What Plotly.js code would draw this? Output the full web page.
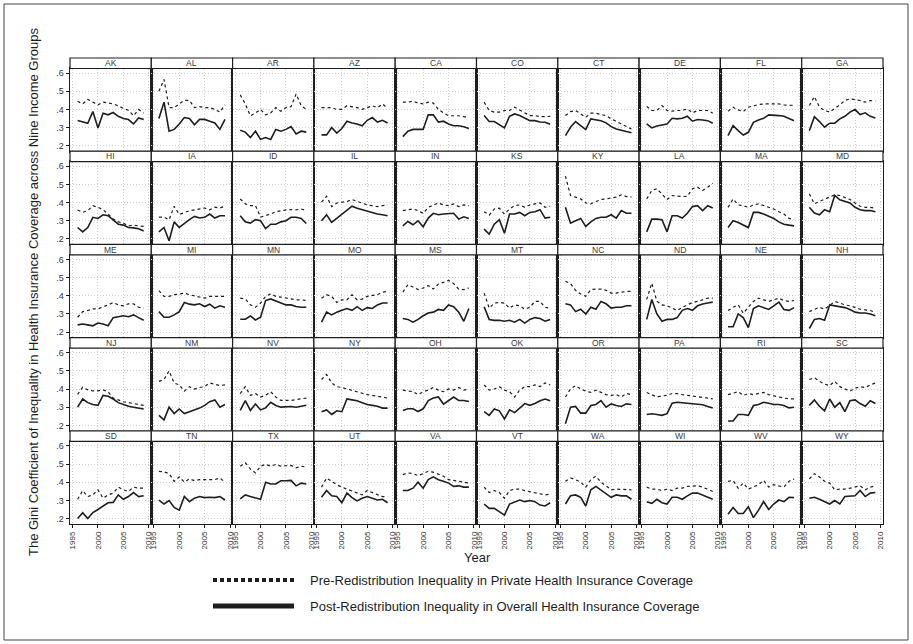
<!DOCTYPE html>
<html>
<head>
<meta charset="utf-8">
<script src="https://cdn.plot.ly/plotly-3.0.1.min.js"></script>
<style>html,body{margin:0;padding:0;background:#fff;}#chart{width:913px;height:644px;}</style>
</head>
<body>
<div id="chart"></div>
<script>
// ---------- DATA ----------
const states = ["AK","AL","AR","AZ","CA","CO","CT","DE","FL","GA",
                "HI","IA","ID","IL","IN","KS","KY","LA","MA","MD",
                "ME","MI","MN","MO","MS","MT","NC","ND","NE","NH",
                "NJ","NM","NV","NY","OH","OK","OR","PA","RI","SC",
                "SD","TN","TX","UT","VA","VT","WA","WI","WV","WY"];
const years = [1996,1997,1998,1999,2000,2001,2002,2003,2004,2005,2006,2007,2008,2009];
const yTickVals = [0.2,0.3,0.4,0.5,0.6];
const yTickText = [".2",".3",".4",".5",".6"];
const xTickVals = [1995,2000,2005,2010];
const xTickText = ["1995","2000","2005","2010"];
const preLabel = "Pre-Redistribution Inequality in Private Health Insurance Coverage";
const postLabel = "Post-Redistribution Inequality in Overall Health Insurance Coverage";

// Pre-redistribution (private coverage) Gini, one row per state in the order above
const preRedist = [
 [.445,.43,.455,.44,.425,.44,.435,.43,.42,.405,.395,.365,.40,.38],   // AK
 [.50,.565,.41,.41,.43,.45,.45,.41,.415,.41,.41,.40,.385,.425],       // AL
 [.48,.43,.365,.38,.40,.37,.38,.41,.39,.41,.415,.485,.42,.40],        // AR
 [.41,.41,.41,.40,.40,.42,.415,.41,.40,.41,.42,.41,.43,.405],         // AZ
 [.44,.44,.445,.435,.43,.44,.435,.40,.38,.365,.365,.365,.36,.355],    // CA
 [.44,.394,.385,.385,.394,.394,.412,.397,.379,.366,.366,.36,.36,.362],// CO
 [.366,.388,.394,.375,.357,.379,.379,.372,.366,.348,.333,.32,.305,.292],// CT
 [.416,.394,.394,.421,.394,.39,.394,.394,.403,.381,.394,.394,.394,.379],// DE
 [.39,.412,.397,.388,.412,.421,.427,.43,.43,.43,.43,.425,.421,.421],  // FL
 [.421,.471,.412,.394,.385,.403,.425,.449,.458,.453,.449,.44,.449,.445],// GA
 [.359,.346,.356,.383,.374,.361,.337,.309,.294,.287,.272,.276,.272,.269],// HI
 [.32,.32,.305,.38,.335,.345,.355,.36,.365,.37,.36,.375,.37,.38],     // IA
 [.42,.393,.383,.383,.32,.328,.337,.35,.356,.36,.361,.36,.365,.356],  // ID
 [.402,.435,.378,.398,.402,.406,.417,.406,.398,.387,.383,.378,.383,.387],// IL
 [.356,.361,.365,.356,.341,.374,.387,.398,.387,.383,.393,.378,.387,.383],// IN
 [.35,.331,.365,.369,.337,.365,.383,.387,.374,.387,.393,.398,.374,.38],// KS
 [.546,.439,.43,.42,.398,.393,.406,.417,.42,.424,.43,.443,.433,.43],  // KY
 [.42,.467,.476,.448,.417,.439,.435,.433,.435,.476,.485,.467,.485,.507],// LA
 [.374,.42,.387,.383,.374,.387,.393,.383,.374,.365,.35,.337,.313,.306],// MA
 [.448,.393,.406,.417,.43,.443,.439,.43,.417,.398,.38,.374,.374,.369],// MD
 [.282,.313,.319,.328,.328,.337,.35,.363,.35,.345,.356,.356,.337,.332],// ME
 [.428,.397,.397,.406,.41,.415,.406,.40,.397,.387,.397,.397,.397,.397],// MI
 [.387,.382,.35,.337,.36,.397,.411,.397,.393,.387,.383,.378,.378,.374],// MN
 [.387,.406,.397,.363,.378,.378,.406,.378,.382,.397,.402,.406,.42,.424],// MO
 [.42,.461,.448,.434,.443,.456,.437,.465,.474,.485,.467,.437,.434,.443],// MS
 [.415,.332,.36,.363,.36,.332,.35,.345,.326,.337,.369,.369,.337,.332],// MT
 [.48,.467,.43,.41,.397,.434,.437,.437,.43,.415,.415,.42,.424,.424],  // NC
 [.38,.47,.37,.35,.345,.332,.319,.337,.35,.363,.369,.378,.387,.387],  // ND
 [.319,.337,.35,.304,.337,.369,.387,.378,.369,.378,.387,.374,.369,.374],// NE
 [.313,.323,.337,.326,.35,.369,.36,.35,.345,.337,.326,.323,.319,.308],// NH
 [.37,.41,.395,.39,.39,.395,.385,.35,.34,.33,.325,.32,.315,.31],      // NJ
 [.442,.452,.50,.433,.423,.388,.413,.40,.408,.413,.433,.427,.419,.423],// NM
 [.375,.413,.365,.375,.356,.365,.385,.356,.337,.337,.337,.342,.346,.35],// NV
 [.452,.48,.433,.413,.408,.40,.394,.385,.375,.369,.365,.36,.356,.35], // NY
 [.394,.388,.385,.369,.385,.394,.408,.394,.385,.40,.394,.408,.394,.40],// OH
 [.423,.394,.40,.413,.394,.385,.356,.394,.413,.413,.423,.413,.433,.423],// OK
 [.356,.40,.419,.40,.388,.381,.394,.381,.369,.365,.369,.356,.375,.369],// OR
 [.381,.369,.356,.362,.365,.375,.375,.369,.365,.362,.356,.35,.346,.346],// PA
 [.369,.375,.385,.365,.375,.369,.375,.381,.369,.362,.356,.35,.346,.346],// RI
 [.452,.462,.442,.427,.419,.442,.413,.40,.388,.404,.413,.408,.423,.433],// SC
 [.306,.354,.321,.33,.358,.312,.33,.34,.373,.358,.349,.373,.367,.367],// SD
 [.46,.457,.447,.405,.429,.40,.418,.408,.414,.414,.418,.414,.423,.40],// TN
 [.488,.507,.473,.451,.488,.498,.488,.498,.488,.488,.492,.479,.488,.483],// TX
 [.373,.423,.405,.386,.373,.362,.354,.343,.33,.354,.343,.33,.321,.321],// UT
 [.442,.451,.447,.436,.447,.46,.455,.442,.433,.414,.41,.405,.40,.395],// VA
 [.373,.343,.354,.343,.312,.354,.362,.362,.354,.349,.343,.336,.33,.334],// VT
 [.405,.423,.414,.40,.373,.414,.433,.40,.38,.358,.362,.362,.358,.358],// WA
 [.373,.362,.362,.354,.362,.354,.367,.367,.377,.38,.38,.373,.362,.349],// WI
 [.405,.41,.367,.395,.362,.373,.386,.41,.373,.386,.38,.373,.405,.418],// WV
 [.418,.447,.429,.405,.395,.358,.362,.362,.367,.373,.38,.358,.373,.38] // WY
];

// Post-redistribution (overall coverage) Gini
const postRedist = [
 [.339,.333,.324,.388,.298,.379,.37,.383,.362,.35,.344,.32,.353,.344], // AK
 [.35,.44,.28,.29,.32,.355,.35,.315,.345,.345,.335,.325,.29,.345],     // AL
 [.285,.275,.245,.28,.235,.245,.235,.29,.28,.29,.305,.265,.28,.275],   // AR
 [.26,.26,.30,.27,.295,.335,.325,.32,.31,.34,.355,.33,.34,.325],       // AZ
 [.25,.28,.29,.29,.29,.37,.37,.33,.335,.32,.31,.31,.305,.295],         // CA
 [.366,.333,.333,.316,.298,.362,.375,.366,.351,.338,.338,.331,.329,.318],// CO
 [.256,.302,.333,.311,.289,.348,.344,.338,.326,.305,.292,.283,.278,.272],// CT
 [.32,.298,.309,.313,.32,.351,.348,.351,.362,.335,.344,.342,.338,.324],// DE
 [.256,.311,.283,.259,.274,.329,.342,.351,.37,.37,.366,.362,.348,.338],// FL
 [.283,.36,.333,.302,.324,.324,.348,.362,.385,.399,.372,.381,.362,.352],// GA
 [.263,.239,.263,.319,.313,.333,.328,.306,.281,.276,.263,.261,.256,.244],// HI
 [.239,.263,.19,.294,.263,.287,.306,.324,.315,.319,.337,.315,.328,.328],// IA
 [.328,.294,.287,.306,.30,.257,.281,.281,.294,.30,.319,.319,.313,.285],// ID
 [.30,.333,.291,.313,.337,.361,.38,.369,.361,.35,.346,.337,.333,.328], // IL
 [.272,.296,.278,.30,.267,.315,.341,.333,.337,.337,.341,.309,.322,.313],// IN
 [.254,.226,.281,.306,.231,.337,.337,.346,.328,.346,.35,.361,.315,.319],// KS
 [.374,.287,.30,.313,.269,.294,.313,.319,.319,.333,.315,.356,.341,.341],// KY
 [.239,.309,.309,.306,.239,.328,.328,.315,.341,.378,.383,.356,.383,.37],// LA
 [.263,.30,.291,.276,.263,.346,.346,.337,.324,.313,.294,.281,.276,.272],// MA
 [.374,.343,.333,.361,.35,.439,.415,.406,.398,.374,.361,.356,.356,.35],// MD
 [.24,.245,.24,.235,.25,.245,.235,.28,.285,.29,.285,.295,.28,.265],   // ME
 [.313,.282,.282,.295,.313,.363,.354,.35,.356,.341,.354,.332,.345,.337],// MI
 [.271,.271,.289,.267,.282,.374,.383,.372,.36,.35,.35,.341,.337,.337],// MN
 [.255,.31,.295,.31,.32,.33,.32,.34,.32,.335,.33,.35,.36,.36],         // MO
 [.275,.27,.255,.27,.29,.305,.31,.325,.32,.35,.34,.31,.26,.33],        // MS
 [.34,.27,.265,.265,.26,.265,.255,.27,.25,.27,.28,.275,.26,.27],       // MT
 [.356,.35,.313,.326,.30,.337,.326,.369,.356,.332,.337,.337,.345,.345],// NC
 [.27,.38,.30,.26,.27,.27,.28,.32,.33,.32,.345,.355,.36,.365],         // ND
 [.23,.23,.30,.28,.225,.33,.345,.335,.325,.345,.365,.325,.32,.335],    // NE
 [.22,.27,.275,.265,.35,.345,.34,.335,.325,.31,.305,.305,.30,.29],     // NH
 [.30,.345,.325,.315,.31,.365,.36,.345,.325,.315,.305,.30,.295,.29],   // NJ
 [.255,.23,.30,.265,.29,.265,.275,.285,.295,.31,.33,.34,.30,.315],     // NM
 [.282,.336,.282,.318,.285,.296,.327,.309,.30,.304,.304,.30,.304,.311],// NV
 [.275,.285,.26,.28,.275,.345,.34,.335,.325,.315,.31,.305,.295,.295],  // NY
 [.282,.291,.291,.276,.291,.336,.35,.356,.317,.337,.356,.337,.337,.331],// OH
 [.275,.255,.29,.28,.235,.285,.27,.295,.32,.31,.32,.335,.345,.335],    // OK
 [.209,.30,.304,.267,.267,.309,.315,.336,.30,.318,.309,.304,.318,.315],// OR
 [.26,.264,.26,.255,.264,.322,.327,.324,.322,.318,.315,.313,.304,.296],// PA
 [.224,.224,.26,.26,.255,.309,.315,.327,.322,.315,.315,.309,.296,.30], // RI
 [.31,.34,.305,.28,.345,.30,.325,.275,.335,.34,.32,.305,.335,.32],     // SC
 [.20,.232,.20,.233,.25,.269,.287,.289,.33,.306,.321,.343,.321,.325],  // SD
 [.302,.28,.299,.261,.246,.321,.293,.312,.321,.315,.317,.315,.321,.302],// TN
 [.308,.33,.321,.315,.306,.40,.39,.39,.408,.408,.41,.38,.395,.39],     // TX
 [.317,.354,.325,.321,.287,.34,.315,.297,.312,.321,.312,.302,.306,.287],// UT
 [.354,.354,.367,.40,.367,.414,.429,.414,.405,.395,.377,.38,.373,.373],// VA
 [.28,.256,.256,.237,.219,.28,.293,.302,.293,.299,.293,.274,.269,.287],// VT
 [.28,.325,.33,.317,.269,.358,.377,.358,.34,.317,.33,.325,.325,.306],  // WA
 [.293,.284,.306,.287,.28,.317,.317,.306,.325,.34,.34,.33,.317,.306],  // WI
 [.224,.261,.228,.228,.265,.205,.246,.293,.25,.28,.302,.293,.317,.315],// WV
 [.312,.317,.306,.293,.28,.299,.28,.321,.325,.325,.354,.321,.34,.343]  // WY
];

// ---------- LAYOUT GEOMETRY ----------
const W = 913, H = 644;
const nCols = 10;
const colL = 70, colW = 81.3;
const rowT = 58, rowH = 93.2, stripH = 10.5;
const px = v => v / W;
const py = v => 1 - v / H;
const FONT = "Liberation Sans, Arial, Helvetica, sans-serif";
const INK = "#1e1e1e";
const GRID = "#cfcfcf";

const traces = [];
const layout = {
  width: W, height: H,
  margin: {l: 0, r: 0, t: 0, b: 0, pad: 0},
  paper_bgcolor: "#fff", plot_bgcolor: "#fff",
  showlegend: false,
  font: {family: FONT, color: INK},
  shapes: [], annotations: []
};

states.forEach((st, i) => {
  const r = Math.floor(i / nCols), c = i % nCols;
  const x0 = colL + c * colW, x1 = x0 + colW;
  const sTop = rowT + r * rowH, pTop = sTop + stripH, pBot = sTop + rowH;
  const xa = i === 0 ? "x" : "x" + (i + 1);
  const ya = i === 0 ? "y" : "y" + (i + 1);
  const xk = i === 0 ? "xaxis" : "xaxis" + (i + 1);
  const yk = i === 0 ? "yaxis" : "yaxis" + (i + 1);
  const bottom = r === 4, left = c === 0;

  layout[xk] = {
    domain: [px(x0), px(x1)], anchor: ya, range: [1994.5, 2010.5],
    tickvals: xTickVals, ticktext: xTickText,
    showticklabels: bottom, ticks: bottom ? "outside" : "", ticklen: 3, tickcolor: INK,
    tickangle: -90, tickfont: {size: 8, color: "#333"},
    showgrid: true, gridcolor: GRID, griddash: "1px,2px", gridwidth: 1,
    zeroline: false, showline: true, mirror: true, linecolor: INK, linewidth: 1.4,
    fixedrange: true
  };
  layout[yk] = {
    domain: [py(pBot), py(pTop)], anchor: xa, range: [0.17, 0.625],
    tickvals: yTickVals, ticktext: yTickText,
    showticklabels: left, ticks: left ? "outside" : "", ticklen: 3, tickcolor: INK,
    tickfont: {size: 9, color: "#333"},
    showgrid: true, gridcolor: GRID, griddash: "1px,2px", gridwidth: 1,
    zeroline: false, showline: true, mirror: true, linecolor: INK, linewidth: 1.4,
    fixedrange: true
  };

  traces.push({
    type: "scatter", mode: "lines", x: years, y: preRedist[i],
    xaxis: xa, yaxis: ya, name: preLabel, hoverinfo: "skip",
    line: {color: INK, width: 1.2, dash: "3px,3px"}
  });
  traces.push({
    type: "scatter", mode: "lines", x: years, y: postRedist[i],
    xaxis: xa, yaxis: ya, name: postLabel, hoverinfo: "skip",
    line: {color: INK, width: 1.6}
  });

  // strip header
  layout.shapes.push({
    type: "rect", xref: "paper", yref: "paper",
    x0: px(x0), x1: px(x1), y0: py(pTop), y1: py(sTop),
    fillcolor: "#fff", line: {color: INK, width: 1.2}, layer: "above"
  });
  layout.annotations.push({
    xref: "paper", yref: "paper", x: px((x0 + x1) / 2), y: py((sTop + pTop) / 2),
    text: st, showarrow: false, xanchor: "center", yanchor: "middle",
    font: {size: 8.5, color: "#3a3a3a", family: FONT}
  });
});

// outer frame
layout.shapes.push({
  type: "rect", xref: "paper", yref: "paper",
  x0: px(4), x1: px(908), y0: py(640), y1: py(4),
  line: {color: "#444", width: 1}, fillcolor: "rgba(0,0,0,0)"
});

// axis titles
layout.annotations.push({
  xref: "paper", yref: "paper", x: px(33), y: py(292),
  text: "The Gini Coefficient of Inequality in Health Insurance Coverage across Nine Income Groups",
  textangle: -90, showarrow: false, xanchor: "center", yanchor: "middle",
  font: {size: 13, color: INK, family: FONT}
});
layout.annotations.push({
  xref: "paper", yref: "paper", x: px(477), y: py(557),
  text: "Year", showarrow: false, xanchor: "center", yanchor: "middle",
  font: {size: 13, color: INK, family: FONT}
});

// legend
layout.shapes.push({
  type: "line", xref: "paper", yref: "paper",
  x0: px(213), x1: px(294), y0: py(580), y1: py(580),
  line: {color: INK, width: 4, dash: "4px,3px"}
});
layout.shapes.push({
  type: "line", xref: "paper", yref: "paper",
  x0: px(213), x1: px(294), y0: py(606), y1: py(606),
  line: {color: INK, width: 5}
});
layout.annotations.push({
  xref: "paper", yref: "paper", x: px(308), y: py(580),
  text: preLabel, showarrow: false, xanchor: "left", yanchor: "middle",
  font: {size: 13, color: INK, family: FONT}
});
layout.annotations.push({
  xref: "paper", yref: "paper", x: px(308), y: py(606),
  text: postLabel, showarrow: false, xanchor: "left", yanchor: "middle",
  font: {size: 13, color: INK, family: FONT}
});

Plotly.newPlot("chart", traces, layout, {staticPlot: true, displayModeBar: false});
</script>
</body>
</html>
